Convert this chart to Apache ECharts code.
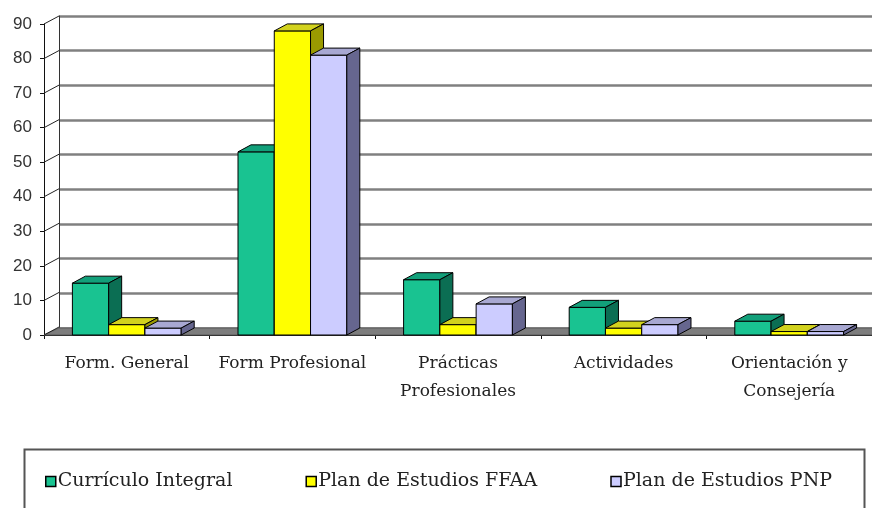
<!DOCTYPE html>
<html>
<head>
<meta charset="utf-8">
<script src="https://cdn.jsdelivr.net/npm/echarts@6/dist/echarts.min.js"></script>
<style>
  html, body { margin: 0; padding: 0; background: #ffffff; }
  #chart { width: 872px; height: 508px; }
</style>
</head>
<body>
<div id="chart"></div>
<script>
// Categories and values
const categories = ['Form. General', 'Form Profesional', 'Prácticas\nProfesionales', 'Actividades', 'Orientación y\nConsejería'];
const seriesNames = ['Currículo Integral', 'Plan de Estudios FFAA', 'Plan de Estudios PNP'];
const curriculoIntegral = [15, 53, 16, 8, 4];
const planFFAA = [3, 88, 3, 2, 1];
const planPNP = [2, 81, 9, 3, 1];
const yTicks = [0, 10, 20, 30, 40, 50, 60, 70, 80, 90];

// Face colours per series: front, top, side
const faceColors = [
  { front: '#19c391', top: '#12a07a', side: '#0b6e53' },
  { front: '#ffff00', top: '#d2d21e', side: '#9a9a00' },
  { front: '#ccccff', top: '#a8a8d2', side: '#66668f' }
];

// Depth of the 3D effect
const DEPTH_X = 13, DEPTH_Y = -7;
const WALL_X = 15, WALL_Y = -8;

function barRenderer(idx) {
  const c = faceColors[idx];
  return function (params, api) {
    const cat = api.value(0);
    const val = api.value(1);
    const base = api.coord([cat, 0]);
    const top = api.coord([cat, val]);
    const band = api.size([1, 0])[0];
    const w = band * 0.219;
    const x0 = base[0] + (idx - 1.5) * w;
    const ty = top[1], by = base[1];
    const stroke = { stroke: '#000', lineWidth: 1 };
    return {
      type: 'group',
      children: [
        { type: 'rect', shape: { x: x0, y: ty, width: w, height: by - ty },
          style: Object.assign({ fill: c.front }, stroke) },
        { type: 'polygon', shape: { points: [[x0, ty], [x0 + DEPTH_X, ty + DEPTH_Y], [x0 + w + DEPTH_X, ty + DEPTH_Y], [x0 + w, ty]] },
          style: Object.assign({ fill: c.top }, stroke) },
        { type: 'polygon', shape: { points: [[x0 + w, ty], [x0 + w + DEPTH_X, ty + DEPTH_Y], [x0 + w + DEPTH_X, by + DEPTH_Y], [x0 + w, by]] },
          style: Object.assign({ fill: c.side }, stroke) }
      ]
    };
  };
}

// Floor slab and the diagonal tick connectors between the front axis and the back wall
function frameRenderer(params, api) {
  const cs = params.coordSys;
  const v = api.value(0);
  const y = api.coord([0, v])[1];
  const children = [];
  if (v === 0) {
    children.push({
      type: 'polygon',
      shape: { points: [[cs.x, y], [cs.x + cs.width, y], [cs.x + cs.width + WALL_X, y + WALL_Y + 1], [cs.x + WALL_X, y + WALL_Y + 1]] },
      style: { fill: '#7d7d7d', stroke: '#5a5a5a', lineWidth: 1 }
    });
  }
  children.push({
    type: 'line',
    shape: { x1: cs.x, y1: y, x2: cs.x + WALL_X, y2: y + WALL_Y },
    style: { stroke: '#222', lineWidth: 1 }
  });
  return { type: 'group', children: children };
}

const serif = 'DejaVu Serif';
const data = [curriculoIntegral, planFFAA, planPNP];

const chart = echarts.init(document.getElementById('chart'), null, { renderer: 'canvas' });

const option = {
  backgroundColor: '#ffffff',
  animation: false,
  grid: [
    // front plane: axes, labels and bars
    { left: 44, top: 24, width: 835, height: 311 },
    // back wall with its gridlines
    { left: 44 + WALL_X, top: 24 + WALL_Y, width: 835, height: 312 }
  ],
  xAxis: [
    {
      type: 'category', gridIndex: 0, data: categories,
      axisLine: { show: true, lineStyle: { color: '#111', width: 1 } },
      axisTick: { show: true, interval: 0, length: 4, lineStyle: { color: '#111' } },
      axisLabel: { interval: 0, fontFamily: serif, fontSize: 17, color: '#222', margin: 15, lineHeight: 28 }
    },
    { type: 'category', gridIndex: 1, data: categories, show: false }
  ],
  yAxis: [
    {
      type: 'value', gridIndex: 0, min: 0, max: 90, interval: 10,
      axisLine: { show: true, lineStyle: { color: '#111', width: 1 } },
      axisTick: { show: true, length: 4, lineStyle: { color: '#111' } },
      axisLabel: { fontFamily: 'Liberation Sans', fontSize: 17, color: '#333', margin: 12 },
      splitLine: { show: false }
    },
    {
      type: 'value', gridIndex: 1, min: 0, max: 90, interval: 10,
      axisLine: { show: true, lineStyle: { color: '#333', width: 1 } },
      axisTick: { show: false },
      axisLabel: { show: false },
      splitLine: { show: true, lineStyle: { color: '#808080', width: 2.5 } }
    }
  ],
  legend: {
    data: seriesNames,
    left: 40, top: 467,
    icon: 'rect', itemWidth: 10, itemHeight: 10, itemGap: 73,
    itemStyle: { borderColor: '#000', borderWidth: 1.5 },
    textStyle: { fontFamily: serif, fontSize: 19, color: '#222', padding: [0, 0, 0, -3] }
  },
  graphic: [
    { type: 'rect', left: 22, top: 447, shape: { width: 840, height: 70 },
      style: { fill: 'none', stroke: '#555', lineWidth: 2 } }
  ],
  series: [
    {
      type: 'custom', name: 'frame', xAxisIndex: 0, yAxisIndex: 0, z: 1,
      renderItem: frameRenderer, data: yTicks.map(v => [v]), encode: { y: 0 }, silent: true
    }
  ].concat(data.map((vals, i) => ({
    type: 'custom', name: seriesNames[i], xAxisIndex: 0, yAxisIndex: 0, z: 2 + i,
    itemStyle: { color: faceColors[i].front },
    renderItem: barRenderer(i),
    encode: { x: 0, y: 1 },
    data: vals.map((v, k) => [k, v])
  })))
};

chart.setOption(option);
</script>
</body>
</html>
